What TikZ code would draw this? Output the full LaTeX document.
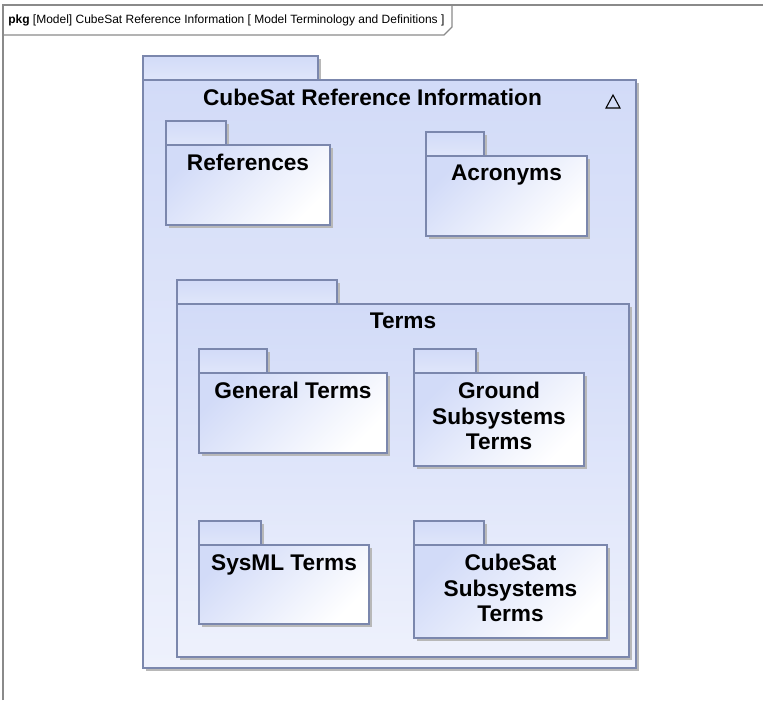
\documentclass[tikz,border=0pt]{standalone}
\usepackage{fontspec}
\setmainfont{Liberation Sans}
\usetikzlibrary{calc,shadows}
\definecolor{pkgline}{HTML}{7B87AD}
\definecolor{pkgfill}{HTML}{D2DBF8}
\definecolor{pkgpale}{HTML}{EEF1FC}
\definecolor{framegray}{HTML}{8A8A8A}
\tikzstyle{pkgbox}=[rectangle, draw=pkgline, line width=1pt, inner sep=0pt, outer sep=0pt, top color=pkgfill, bottom color=white, shading angle=45, drop shadow={shadow xshift=2pt, shadow yshift=-2pt, fill=black!28, opacity=1}]
\tikzstyle{pkgtab}=[pkgbox, top color=pkgfill, bottom color=pkgfill!70!white, minimum height=18pt, anchor=south west]
\tikzstyle{pkgbig}=[bottom color=pkgpale]
\tikzstyle{pkglabel}=[font=\fontsize{17}{19}\selectfont\bfseries, align=center, inner sep=0pt]
% tab + body + name of a package: [style]{name}{x}{y}{width}{height}{tab width}{label}{label shift}
\newcommand{\umlpkg}[9][]
{
  \node[pkgtab, minimum width=#7*0.75pt](#2tab) at (#3,#4){};
  \node[pkgbox, #1, minimum width=#5*0.75pt, minimum height=#6*0.75pt, anchor=north west](#2) at (#3,#4){};
  \node[pkglabel, anchor=north, xshift=#9*0.75pt](#2name) at ($(#2.north)+(0,9)$){#8};
}

\begin{document}
\begin{tikzpicture}[x=0.75pt, y=-0.75pt]
	\useasboundingbox (0,0) rectangle (763,700);

	% diagram frame
	\draw[framegray, line width=1pt] (3,700) -- (3,5) -- (763,5);
	\draw[framegray, line width=1pt] (3,35) -- (444,35) -- (452,27) -- (452,5);
	\node[anchor=west, inner sep=0pt, font=\fontsize{9}{11}\selectfont](diagtitle) at (8,20) {\textbf{pkg} [Model] CubeSat Reference Information [ Model Terminology and Definitions ]};

	\umlpkg[pkgbig]{cuberef}{143}{80}{493}{588}{175}{CubeSat Reference Information}{-17}
	\coordinate (tri) at (613,102);
	\draw[black, line width=0.8pt] (tri) ++(-7,6) -- ++(14,0) -- ++(-7,-13) -- cycle;

	\umlpkg{refs}{166}{145}{164}{80}{60}{References}{0}
	\umlpkg{acro}{426}{156}{161}{80}{58}{Acronyms}{0}

	\umlpkg[pkgbig]{terms}{177}{304}{452}{353}{160}{Terms}{0}
	\umlpkg{general}{199}{373}{188}{80}{68}{General Terms}{0}
	\umlpkg{ground}{414}{373}{170}{93}{62}{Ground\\Subsystems\\Terms}{0}
	\umlpkg{sysml}{199}{545}{170}{79}{62}{SysML Terms}{0}
	\umlpkg{cubesub}{414}{545}{193}{93}{70}{CubeSat\\Subsystems\\Terms}{0}

\end{tikzpicture}
\end{document}
